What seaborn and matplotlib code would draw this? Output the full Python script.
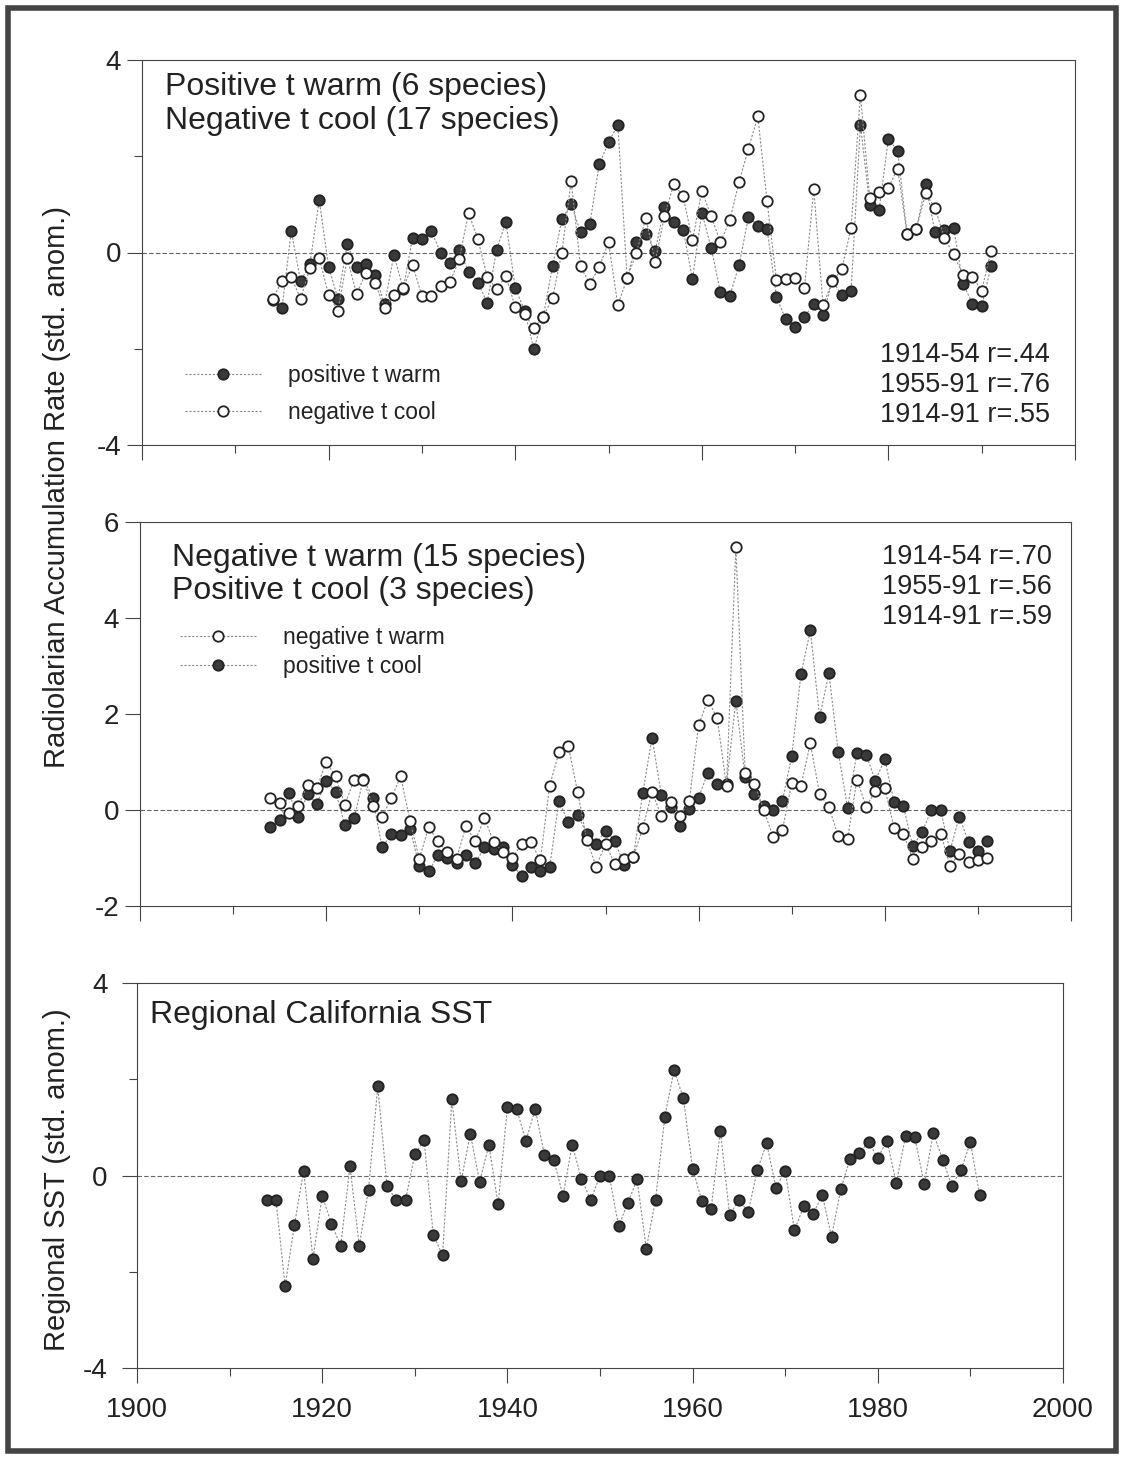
import matplotlib
matplotlib.use('Agg')
import matplotlib.pyplot as plt
import seaborn as sns
import pandas as pd
from matplotlib.lines import Line2D
from matplotlib.patches import Rectangle

# years of the record
years = list(range(1914, 1992))

# top panel: positive t warm (6 species), filled
pos_warm_6 = [-0.99, -1.16, 0.45, -0.60, -0.23, 1.09, -0.30, -0.96, 0.17, -0.31,
              -0.24, -0.46, -1.08, -0.05, -0.76, 0.31, 0.28, 0.45, 0.00, -0.21,
              0.05, -0.40, -0.63, -1.04, 0.05, 0.64, -0.73, -1.21, -2.01, -1.33,
              -0.29, 0.69, 1.00, 0.42, 0.59, 1.83, 2.29, 2.65, -0.54, 0.21,
              0.38, 0.03, 0.94, 0.63, 0.47, -0.55, 0.83, 0.10, -0.83, -0.90,
              -0.26, 0.74, 0.56, 0.49, -0.92, -1.39, -1.54, -1.33, -1.08, -1.29,
              -0.58, -0.89, -0.80, 2.65, 0.99, 0.88, 2.36, 2.11, 0.38, 0.49,
              1.42, 0.42, 0.46, 0.51, -0.65, -1.06, -1.11, -0.29]

# top panel: negative t cool (17 species), open
neg_cool_17 = [-0.97, -0.59, -0.51, -0.96, -0.33, -0.12, -0.88, -1.21, -0.12, -0.87,
               -0.42, -0.64, -1.16, -0.88, -0.74, -0.26, -0.90, -0.90, -0.69, -0.62,
               -0.14, 0.82, 0.28, -0.51, -0.76, -0.49, -1.13, -1.28, -1.57, -1.34,
               -0.94, 0.00, 1.49, -0.29, -0.65, -0.31, 0.21, -1.09, -0.54, 0.00,
               0.72, -0.19, 0.76, 1.42, 1.17, 0.25, 1.28, 0.76, 0.21, 0.67,
               1.47, 2.16, 2.83, 1.06, -0.57, -0.56, -0.53, -0.74, 1.31, -1.10,
               -0.60, -0.35, 0.51, 3.28, 1.13, 1.26, 1.35, 1.74, 0.38, 0.49,
               1.23, 0.92, 0.31, -0.04, -0.47, -0.51, -0.79, 0.03]

# middle panel: negative t warm (15 species), open
neg_warm_15 = [0.25, 0.15, -0.07, 0.08, 0.53, 0.46, 1.01, 0.70, 0.11, 0.63,
               0.63, 0.08, -0.15, 0.25, 0.70, -0.22, -1.02, -0.36, -0.64, -0.88,
               -1.02, -0.34, -0.65, -0.17, -0.67, -0.88, -1.00, -0.71, -0.67, -1.05,
               0.51, 1.20, 1.34, 0.38, -0.63, -1.18, -0.70, -1.13, -1.02, -0.97,
               -0.38, 0.38, -0.13, 0.17, -0.13, 0.19, 1.77, 2.30, 1.91, 0.49,
               5.47, 0.78, 0.55, 0.00, -0.56, -0.42, 0.56, 0.51, 1.39, 0.33,
               0.06, -0.54, -0.60, 0.63, 0.07, 0.40, 0.45, -0.37, -0.50, -1.02,
               -0.78, -0.64, -0.49, -1.16, -0.92, -1.08, -1.04, -1.00]

# middle panel: positive t cool (3 species), filled
pos_cool_3 = [-0.35, -0.20, 0.35, -0.15, 0.33, 0.13, 0.61, 0.38, -0.31, -0.17,
              0.65, 0.26, -0.78, -0.50, -0.52, -0.40, -1.16, -1.28, -0.94, -1.00,
              -1.10, -0.94, -1.11, -0.78, -0.81, -0.78, -1.15, -1.37, -1.18, -1.28,
              -1.19, 0.19, -0.26, -0.10, -0.49, -0.70, -0.43, -0.64, -1.15, -0.97,
              0.35, 1.51, 0.31, 0.07, -0.33, 0.03, 0.26, 0.78, 0.54, 0.54,
              2.27, 0.68, 0.33, 0.08, 0.01, 0.19, 1.12, 2.84, 3.74, 1.94,
              2.85, 1.20, 0.05, 1.18, 1.15, 0.61, 1.06, 0.16, 0.08, -0.76,
              -0.46, -0.01, -0.01, -0.85, -0.14, -0.67, -0.85, -0.64]

# bottom panel: regional California SST
sst = [-0.50, -0.50, -2.30, -1.02, 0.10, -1.73, -0.42, -1.00, -1.46, 0.19,
       -1.46, -0.30, 1.85, -0.22, -0.51, -0.51, 0.44, 0.73, -1.23, -1.66,
       1.58, -0.12, 0.87, -0.13, 0.63, -0.60, 1.42, 1.38, 0.72, 1.38,
       0.43, 0.33, -0.42, 0.64, -0.07, -0.51, 0.00, 0.00, -1.05, -0.58,
       -0.08, -1.52, -0.50, 1.22, 2.19, 1.61, 0.14, -0.53, -0.69, 0.93,
       -0.83, -0.50, -0.76, 0.12, 0.67, -0.25, 0.10, -1.14, -0.64, -0.81,
       -0.40, -1.27, -0.29, 0.35, 0.47, 0.69, 0.37, 0.72, -0.16, 0.82,
       0.79, -0.17, 0.88, 0.33, -0.21, 0.12, 0.69, -0.41]

W, H = 1127, 1457
sns.set_style('ticks')
plt.rcParams['font.family'] = ['Liberation Sans', 'DejaVu Sans']
plt.rcParams['axes.unicode_minus'] = False

ink = '#222222'
dark = '#3a3a3a'
line_kw = dict(color='#8c8c8c', linewidth=0.8, linestyle=(0, (2, 1.5)))

fig = plt.figure(figsize=(W / 100, H / 100), dpi=100)


def box(l, t, r, b):
    return [l / W, 1 - b / H, (r - l) / W, (b - t) / H]


def fx(px):
    return px / W


def fy(py):
    return 1 - py / H


ax1 = fig.add_axes(box(142, 60, 1075, 445))
ax2 = fig.add_axes(box(140, 522, 1071, 906))
ax3 = fig.add_axes(box(137, 983, 1063, 1368))


def series(ax, vals, filled):
    df = pd.DataFrame({'year': years, 'val': vals})
    sns.lineplot(data=df, x='year', y='val', ax=ax, marker='o', markersize=7.5,
                 markerfacecolor=dark if filled else 'white',
                 markeredgecolor=ink, markeredgewidth=1.3,
                 zorder=3 if filled else 4, **line_kw)


def frame(ax, ylim, major, minor):
    ax.set_xlim(1900, 2000)
    ax.set_ylim(*ylim)
    ax.set_yticks(major)
    ax.set_yticks(minor, minor=True)
    ax.set_xticks(range(1900, 2001, 20))
    ax.set_xticks(range(1910, 2000, 20), minor=True)
    for s in ax.spines.values():
        s.set_linewidth(0.8)
        s.set_color('#444444')
    ax.tick_params(which='major', length=11, width=0.8, color='#444444',
                   labelsize=20, labelcolor=ink, pad=4)
    ax.tick_params(which='minor', length=6, width=0.8, color='#444444')
    ax.axhline(0, color='#666666', lw=0.8, ls=(0, (4, 2)), zorder=1)
    ax.set_xlabel('')
    ax.set_ylabel('')


def handle(filled):
    return Line2D([], [], marker='o', markersize=7.5,
                  markerfacecolor=dark if filled else 'white',
                  markeredgecolor=ink, markeredgewidth=1.3, **line_kw)


# top panel
series(ax1, pos_warm_6, True)
series(ax1, neg_cool_17, False)
frame(ax1, (-4, 4), [-4, 0, 4], [-2, 2])
ax1.tick_params(labelbottom=False)
ax1.legend([handle(True), handle(False)], ['positive t warm', 'negative t cool'],
           loc='center left', bbox_to_anchor=(0.046, 0.1325), frameon=False,
           fontsize=16.5, handlelength=3.3, handletextpad=1.2, labelspacing=0.6,
           borderpad=0, borderaxespad=0, numpoints=1, labelcolor=ink)

# middle panel
series(ax2, pos_cool_3, True)
series(ax2, neg_warm_15, False)
frame(ax2, (-2, 6), [-2, 0, 2, 4, 6], [])
ax2.tick_params(labelbottom=False)
ax2.legend([handle(False), handle(True)], ['negative t warm', 'positive t cool'],
           loc='center left', bbox_to_anchor=(0.043, 0.661), frameon=False,
           fontsize=16.5, handlelength=3.3, handletextpad=1.2, labelspacing=0.25,
           borderpad=0, borderaxespad=0, numpoints=1, labelcolor=ink)

# bottom panel
series(ax3, sst, True)
frame(ax3, (-4, 4), [-4, 0, 4], [-2, 2])
ax3.tick_params(which='major', pad=10)

# panel texts
big = dict(fontsize=23, color=ink, va='center')
fig.text(fx(165), fy(87), 'Positive t warm (6 species)', ha='left', **big)
fig.text(fx(165), fy(121), 'Negative t cool (17 species)', ha='left', **big)
fig.text(fx(172), fy(558), 'Negative t warm (15 species)', ha='left', **big)
fig.text(fx(172), fy(591), 'Positive t cool (3 species)', ha='left', **big)
fig.text(fx(150), fy(1015), 'Regional California SST', ha='left', **big)

corr = dict(fontsize=19.5, color=ink, va='center', ha='right')
for y, s in zip([355, 385, 415], ['1914-54 r=.44', '1955-91 r=.76', '1914-91 r=.55']):
    fig.text(fx(1050), fy(y), s, **corr)
for y, s in zip([557, 587, 617], ['1914-54 r=.70', '1955-91 r=.56', '1914-91 r=.59']):
    fig.text(fx(1052), fy(y), s, **corr)

fig.text(fx(57), fy(487), 'Radiolarian Accumulation Rate (std. anom.)',
         rotation=90, ha='center', va='center', fontsize=21, color=ink)
fig.text(fx(57), fy(1180), 'Regional SST (std. anom.)',
         rotation=90, ha='center', va='center', fontsize=21, color=ink)

# page frame
fig.add_artist(Rectangle((fx(8), fy(1451)), (1116 - 8) / W, (1451 - 8) / H,
                         transform=fig.transFigure, fill=False, lw=4,
                         edgecolor='#444444'))

fig.savefig('out.png', dpi=100)
